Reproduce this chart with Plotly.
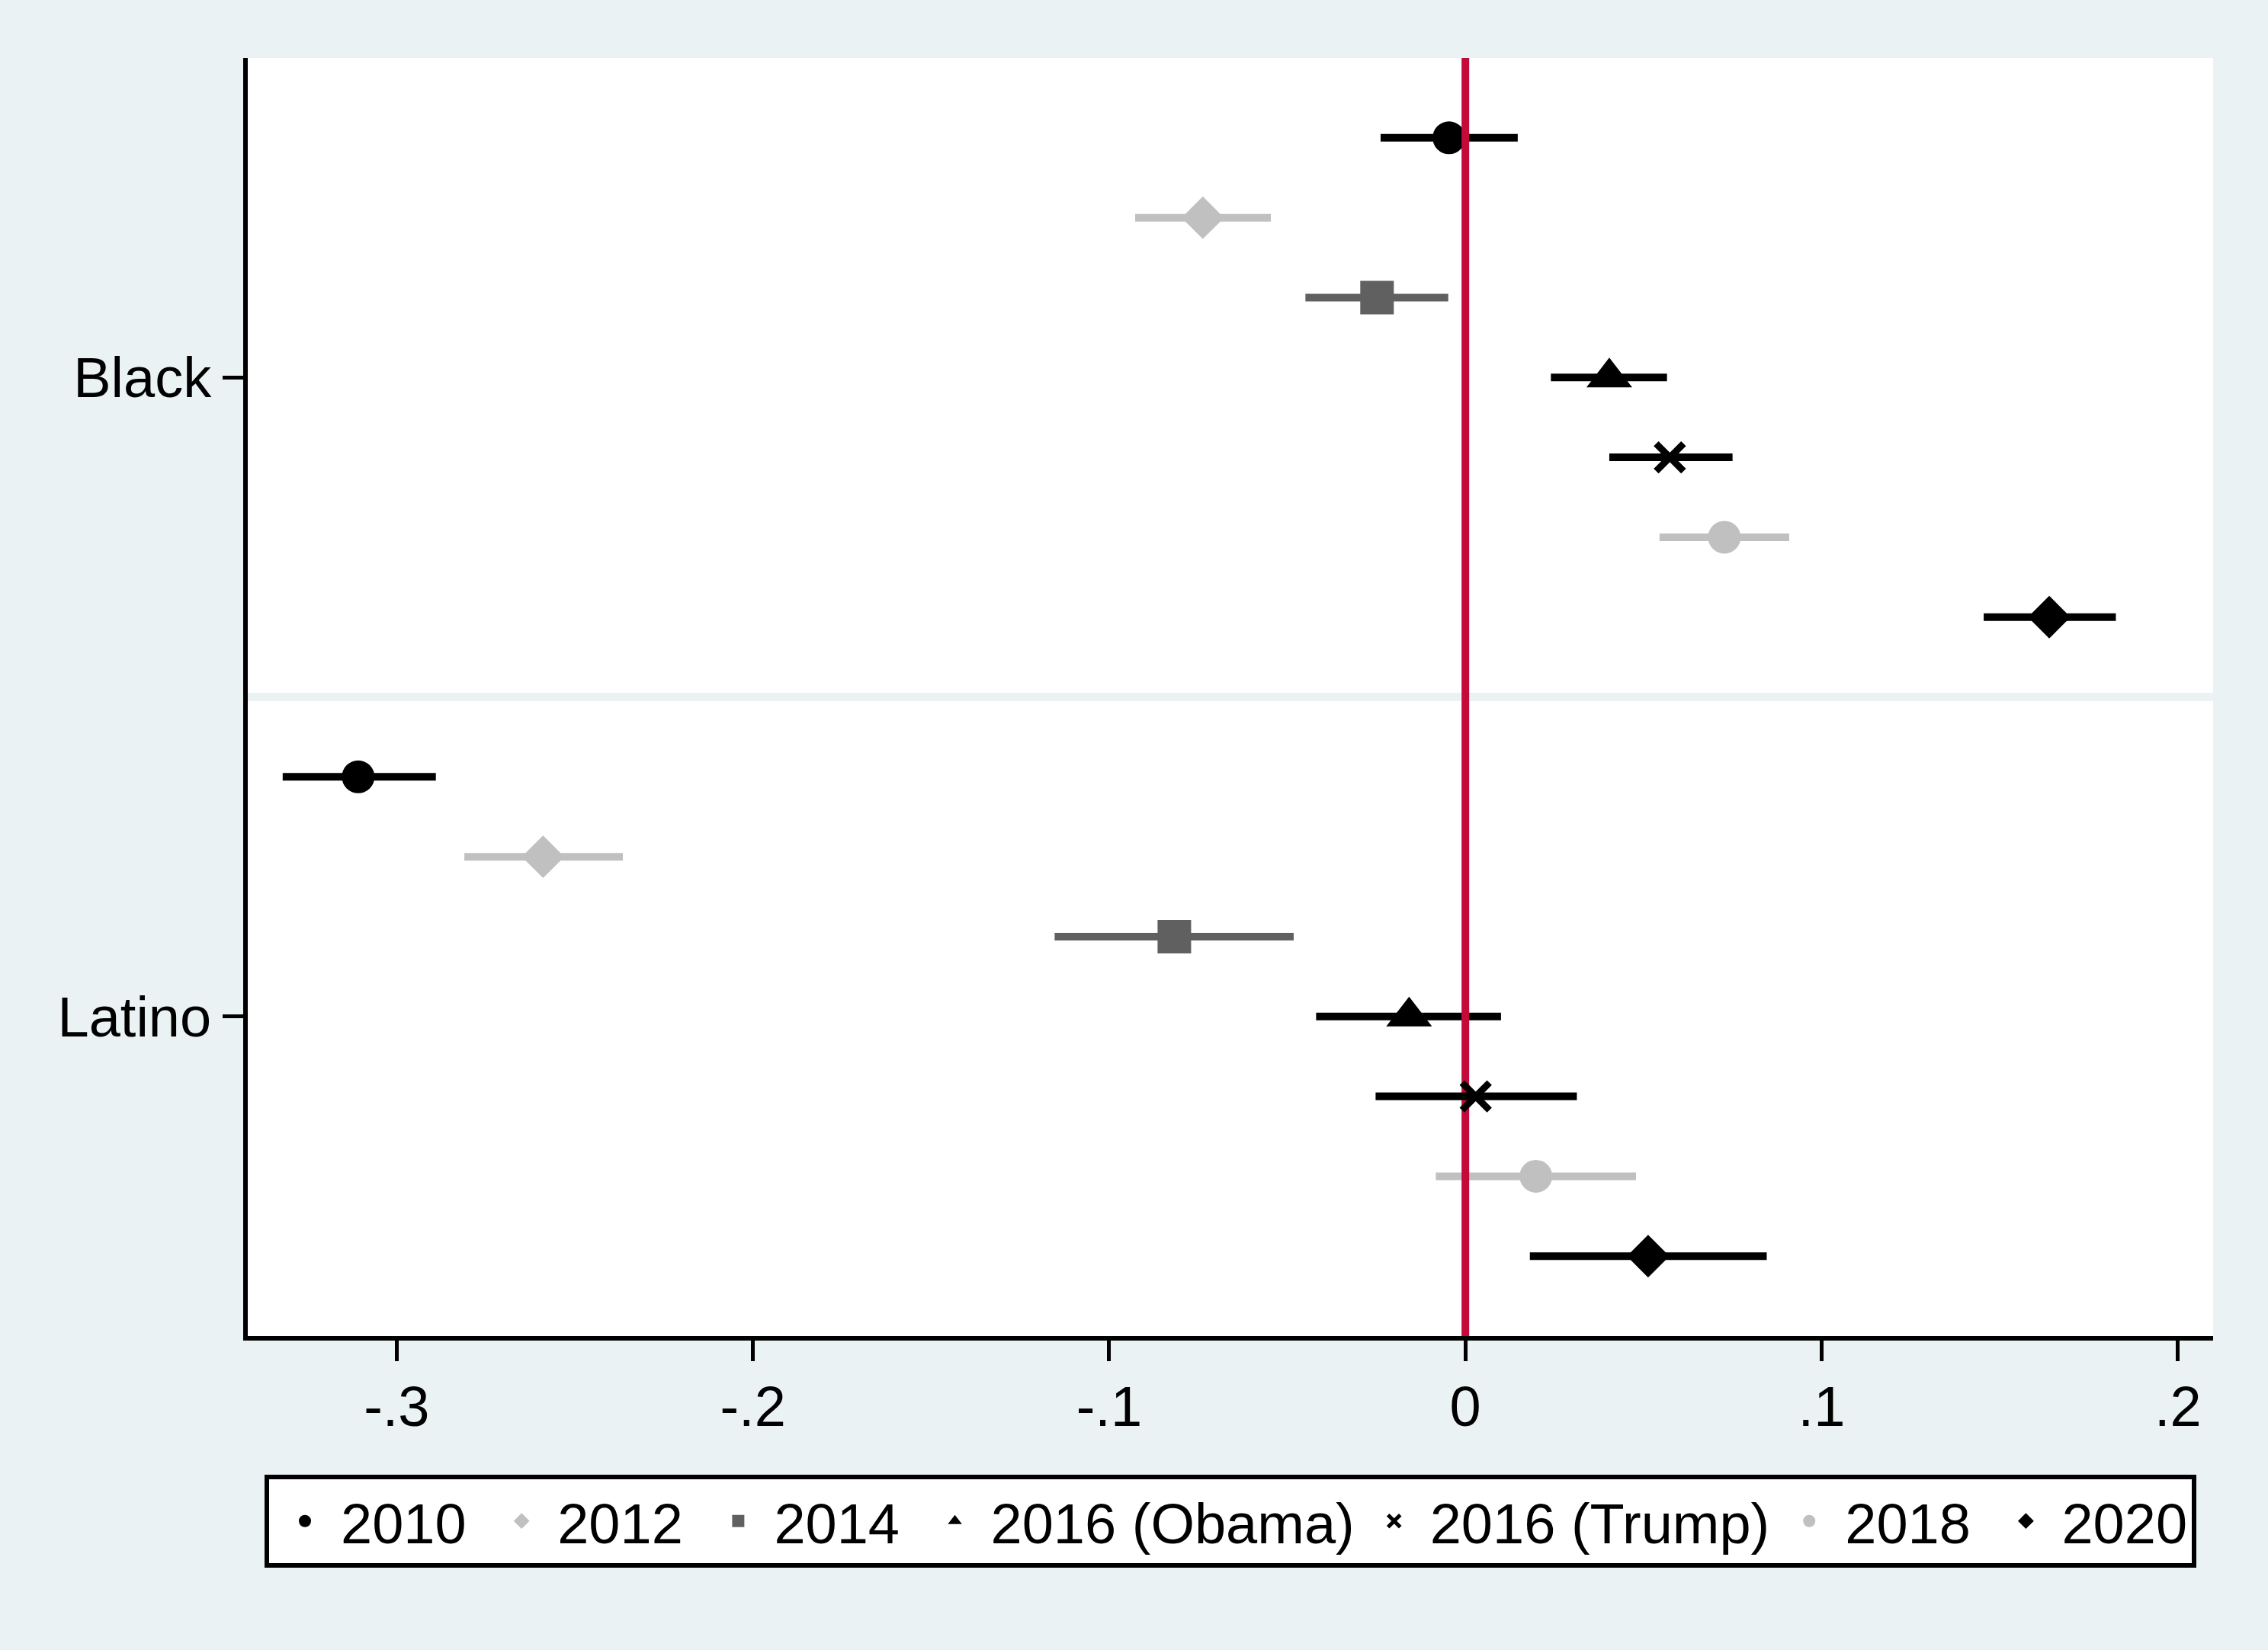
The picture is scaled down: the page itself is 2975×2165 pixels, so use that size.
import plotly.graph_objects as go

# ---------------- data ----------------
groups = ["Black", "Latino"]
series = ["2010", "2012", "2014", "2016 (Obama)", "2016 (Trump)", "2018", "2020"]

black_coef = [-0.0046, -0.0737, -0.0248, 0.0404, 0.0574, 0.0727, 0.1639]
black_lo = [-0.0238, -0.0927, -0.0449, 0.0240, 0.0404, 0.0545, 0.1455]
black_hi = [0.0147, -0.0546, -0.0048, 0.0566, 0.0750, 0.0909, 0.1826]

latino_coef = [-0.3108, -0.2589, -0.0817, -0.0158, 0.0029, 0.0198, 0.0513]
latino_lo = [-0.3320, -0.2810, -0.1153, -0.0419, -0.0252, -0.0083, 0.0181]
latino_hi = [-0.2890, -0.2365, -0.0482, 0.0100, 0.0313, 0.0479, 0.0846]

x_tickvals = [-0.3, -0.2, -0.1, 0, 0.1, 0.2]
x_ticktext = ["-.3", "-.2", "-.1", "0", ".1", ".2"]

# ---------------- styles ----------------
colors = ["#000000", "#C0C0C0", "#606060", "#000000", "#000000", "#C0C0C0", "#000000"]
symbols = ["circle", "diamond", "square", "triangle-up", "x-thin", "circle", "diamond"]
sizes = [43, 43, 44, 52, 36, 43, 43]
legend_pad = ["\u00a0", "\u00a0", "\u00a0", "", "", "\u00a0", ""]
ZERO_COLOR = "#C40A3A"
BG = "#EAF2F3"
FONT = "Liberation Sans, Arial, sans-serif"
FS = 74

coefs = [black_coef, latino_coef]
los = [black_lo, latino_lo]
his = [black_hi, latino_hi]

rows_per_group = len(series) + 1
n_rows = rows_per_group * len(groups)


def series_trace(i):
    xs, ys, plus, minus = [], [], [], []
    for g in range(len(groups)):
        c = coefs[g][i]
        xs.append(c)
        ys.append(g * rows_per_group + i + 1)
        plus.append(his[g][i] - c)
        minus.append(c - los[g][i])
    marker = dict(symbol=symbols[i], size=sizes[i], color=colors[i],
                  line=dict(width=0, color=colors[i]))
    if symbols[i].endswith("-thin"):
        marker["line"] = dict(width=9, color=colors[i])
    return go.Scatter(
        x=xs, y=ys, mode="markers", name=series[i] + legend_pad[i],
        legendrank=i + 1,
        marker=marker,
        error_x=dict(type="data", symmetric=False, array=plus, arrayminus=minus,
                     thickness=10, width=0, color=colors[i]),
        cliponaxis=False,
    )


fig = go.Figure()
trump_idx = series.index("2016 (Trump)")
for i in range(len(series)):
    if i != trump_idx:
        fig.add_trace(series_trace(i))

# reference line at zero
fig.add_trace(go.Scatter(x=[0, 0], y=[0, n_rows], mode="lines",
                         line=dict(color=ZERO_COLOR, width=10),
                         showlegend=False, hoverinfo="skip"))
fig.add_trace(series_trace(trump_idx))

# group separator
for g in range(1, len(groups)):
    fig.add_shape(type="line", xref="paper", x0=0, x1=1,
                  y0=g * rows_per_group, y1=g * rows_per_group,
                  line=dict(color=BG, width=11), layer="below")

group_centers = [g * rows_per_group + (len(series) + 1) / 2 for g in range(len(groups))]

fig.update_layout(
    width=2975, height=2165,
    paper_bgcolor=BG, plot_bgcolor="white",
    margin=dict(l=325, r=72, t=76, b=412),
    font=dict(family=FONT, size=FS, color="black"),
    showlegend=True,
    legend=dict(
        orientation="h", x=0.5, xanchor="center", y=-0.1086, yanchor="top",
        bgcolor="white", bordercolor="black", borderwidth=6,
        font=dict(family=FONT, size=FS, color="black"),
        itemwidth=84, traceorder="normal",
    ),
    xaxis=dict(
        range=[-0.3418, 0.2099], tickvals=x_tickvals, ticktext=x_ticktext,
        showgrid=False, zeroline=False, showline=True, linecolor="black",
        linewidth=6, ticks="outside", ticklen=27, tickwidth=5, tickcolor="black",
        tickfont=dict(family=FONT, size=FS, color="black"),
        ticklabelstandoff=-4,
    ),
    yaxis=dict(
        range=[n_rows, 0], tickvals=group_centers, ticktext=groups,
        showgrid=False, zeroline=False, showline=True, linecolor="black",
        linewidth=6, ticks="outside", ticklen=27, tickwidth=5, tickcolor="black",
        tickfont=dict(family=FONT, size=FS, color="black"),
    ),
)

fig.write_html("out.html", config={"displayModeBar": False},
               post_script="document.body.style.margin='0';")
